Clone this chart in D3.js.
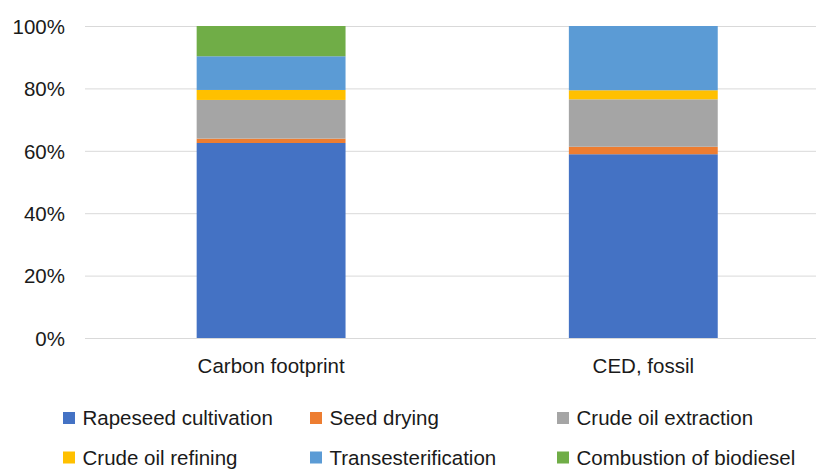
<!DOCTYPE html>
<html>
<head>
<meta charset="utf-8">
<script src="https://cdn.jsdelivr.net/npm/d3@7"></script>
<style>
  html, body { margin: 0; padding: 0; background: #fff; }
  svg { display: block; }
  text { font-family: "Liberation Sans", Arial, sans-serif; fill: #1a1a1a; }
</style>
</head>
<body>
<svg id="chart" width="816" height="470"></svg>
<script>
// Categories (stacked 100% bars)
const categories = ["Carbon footprint", "CED, fossil"];

// Process stages, bottom to top
const stages = [
  "Rapeseed cultivation",
  "Seed drying",
  "Crude oil extraction",
  "Crude oil refining",
  "Transesterification",
  "Combustion of biodiesel"
];

// Share of each stage in percent, one value per category
const rapeseedCultivation = [62.5, 58.9];
const seedDrying          = [1.4, 2.4];
const crudeOilExtraction  = [12.4, 15.2];
const crudeOilRefining    = [3.2, 2.9];
const transesterification = [10.8, 20.6];
const combustion          = [9.7, 0.0];

const yTicks = [0, 20, 40, 60, 80, 100];

const colors = ["#4472C4", "#ED7D31", "#A5A5A5", "#FFC000", "#5B9BD5", "#70AD47"];

const seriesValues = [
  rapeseedCultivation, seedDrying, crudeOilExtraction,
  crudeOilRefining, transesterification, combustion
];

const rows = categories.map((c, i) => {
  const r = { category: c };
  stages.forEach((s, k) => { r[s] = seriesValues[k][i]; });
  return r;
});

const svg = d3.select("#chart");

const plot = { left: 85, right: 829.4, top: 26, bottom: 338 };

const x = d3.scaleBand()
  .domain(categories)
  .range([plot.left, plot.right])
  .paddingInner(0.6)
  .paddingOuter(0.3);

const y = d3.scaleLinear()
  .domain([0, 100])
  .range([plot.bottom, plot.top]);

// Horizontal gridlines
svg.append("g")
  .attr("transform", `translate(${plot.left},0)`)
  .call(d3.axisLeft(y).tickValues(yTicks).tickSize(-(plot.right - plot.left)).tickFormat(""))
  .call(g => g.select(".domain").remove())
  .call(g => g.selectAll("line").attr("stroke", "#d9d9d9").attr("stroke-width", 1));

// Y tick labels
svg.append("g")
  .attr("transform", `translate(65,0)`)
  .call(d3.axisLeft(y).tickValues(yTicks).tickSize(0).tickPadding(0).tickFormat(d => d + "%"))
  .call(g => g.select(".domain").remove())
  .call(g => g.selectAll("text")
    .attr("font-size", "20.5px")
    .attr("font-family", "Liberation Sans, Arial, sans-serif")
    .attr("fill", "#1a1a1a")
    .attr("dy", "0.36em"));

// Stacked bars
const stack = d3.stack().keys(stages);
const layers = stack(rows);

svg.append("g")
  .selectAll("g")
  .data(layers)
  .join("g")
  .attr("fill", (d, i) => colors[i])
  .selectAll("rect")
  .data(d => d)
  .join("rect")
  .attr("x", d => x(d.data.category))
  .attr("width", x.bandwidth())
  .attr("y", d => y(d[1]))
  .attr("height", d => Math.max(0, y(d[0]) - y(d[1])));

// Category labels
svg.append("g")
  .attr("transform", `translate(0,${plot.bottom})`)
  .call(d3.axisBottom(x).tickSize(0).tickPadding(20))
  .call(g => g.select(".domain").remove())
  .call(g => g.selectAll("text")
    .attr("font-size", "20.5px")
    .attr("font-family", "Liberation Sans, Arial, sans-serif")
    .attr("fill", "#1a1a1a"));

// Legend: three columns, two rows
const legendX = d3.scalePoint().domain([0, 1, 2]).range([63, 557]);
const legendY = d3.scalePoint().domain([0, 1]).range([418, 457.5]);

const legend = svg.append("g")
  .selectAll("g")
  .data(stages)
  .join("g")
  .attr("transform", (d, i) => `translate(${legendX(i % 3)},${legendY(Math.floor(i / 3))})`);

legend.append("rect")
  .attr("x", 0)
  .attr("y", -6)
  .attr("width", 12)
  .attr("height", 12)
  .attr("fill", (d, i) => colors[i]);

legend.append("text")
  .attr("x", 19.5)
  .attr("y", 0)
  .attr("dy", "0.36em")
  .attr("font-size", "20.5px")
  .text(d => d);
</script>
</body>
</html>
